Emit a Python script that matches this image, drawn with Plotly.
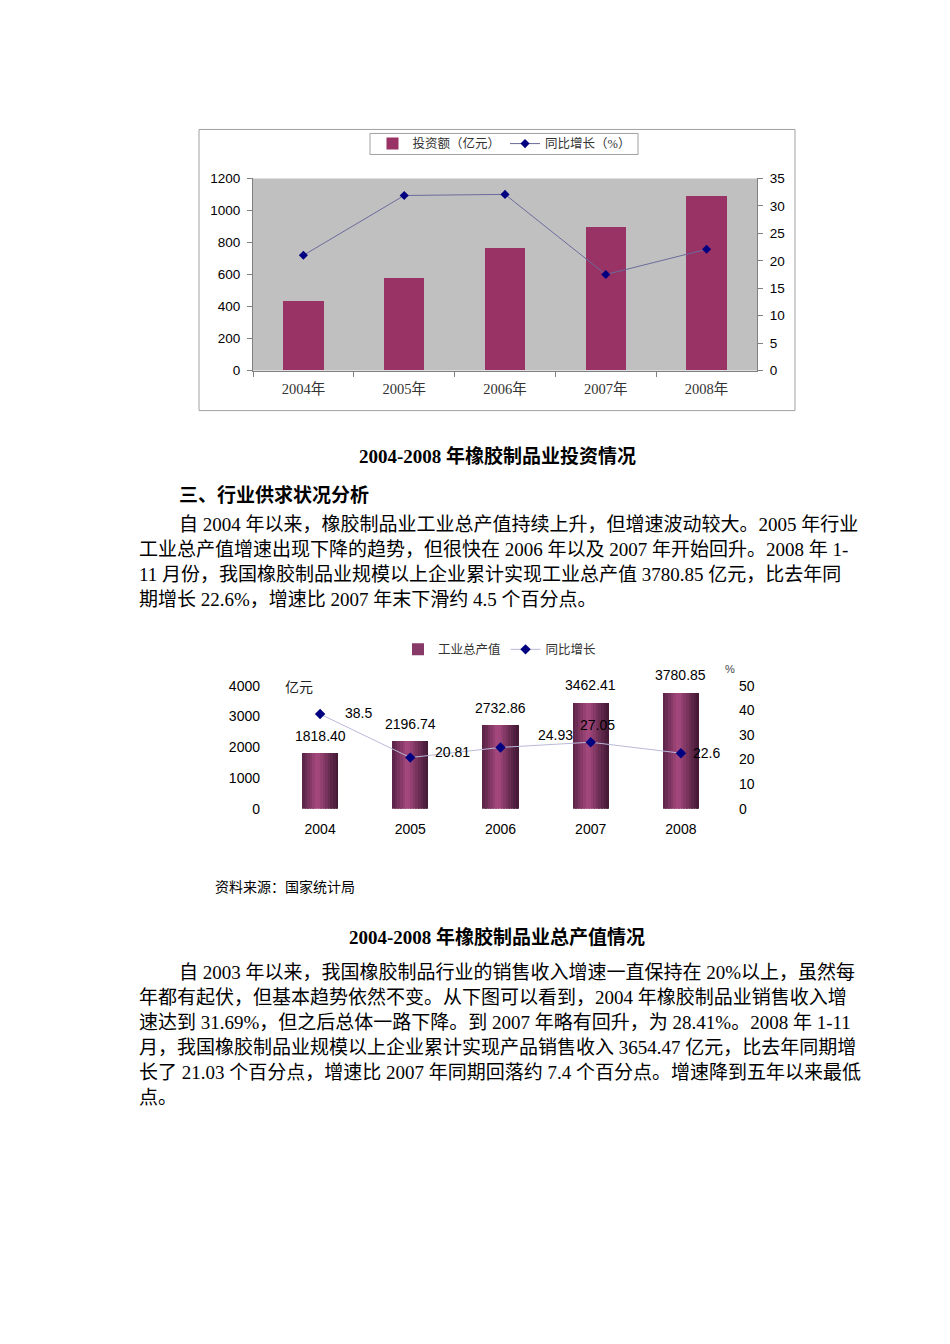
#!/usr/bin/env python3
"""
Rubber products industry page: investment chart, output chart and the text around them.
"""

import plotly.graph_objects as go

# ---- data ----
years_invest = ["2004年", "2005年", "2006年", "2007年", "2008年"]
invest_amount = [431, 575, 762, 894, 1087]        # 亿元
invest_growth = [21.0, 31.9, 32.1, 17.5, 22.1]    # %

years_output = [2004, 2005, 2006, 2007, 2008]
output_value = [1818.40, 2196.74, 2732.86, 3462.41, 3780.85]   # 亿元
output_growth = [38.5, 20.81, 24.93, 27.05, 22.6]              # %

title_invest = "2004-2008 年橡胶制品业投资情况"
title_output = "2004-2008 年橡胶制品业总产值情况"
section_heading = "三、行业供求状况分析"
source_note = "资料来源：国家统计局"

para1_lines = [
    "自 2004 年以来，橡胶制品业工业总产值持续上升，但增速波动较大。2005 年行业",
    "工业总产值增速出现下降的趋势，但很快在 2006 年以及 2007 年开始回升。2008 年 1-",
    "11 月份，我国橡胶制品业规模以上企业累计实现工业总产值 3780.85 亿元，比去年同",
    "期增长 22.6%，增速比 2007 年末下滑约 4.5 个百分点。",
]
para2_lines = [
    "自 2003 年以来，我国橡胶制品行业的销售收入增速一直保持在 20%以上，虽然每",
    "年都有起伏，但基本趋势依然不变。从下图可以看到，2004 年橡胶制品业销售收入增",
    "速达到 31.69%，但之后总体一路下降。到 2007 年略有回升，为 28.41%。2008 年 1-11",
    "月，我国橡胶制品业规模以上企业累计实现产品销售收入 3654.47 亿元，比去年同期增",
    "长了 21.03 个百分点，增速比 2007 年同期回落约 7.4 个百分点。增速降到五年以来最低",
    "点。",
]

W, H = 950, 1344
SERIF = "Liberation Serif, Noto Sans CJK SC, serif"
SANS = "Liberation Sans, Arial, Noto Sans CJK SC, sans-serif"
CJK = "Noto Sans CJK SC, sans-serif"

# the page ends up shifted by the body margin and squeezed a little in height,
# so page pixels are mapped back to paper fractions here
X_SHIFT, Y_SHIFT, Y_SCALE = 8, 15.6, 0.9876


def px(x):
    return (x - X_SHIFT) / W


def py(y):
    return 1 - ((y - Y_SHIFT) / Y_SCALE) / H


def strip_color(t):
    # cylinder-like shading across the bar width
    stops = [(0.0, (86, 34, 68)), (0.42, (168, 74, 128)), (0.82, (92, 38, 72)), (1.0, (66, 24, 52))]
    for (t0, c0), (t1, c1) in zip(stops, stops[1:]):
        if t <= t1:
            f = (t - t0) / (t1 - t0)
            c = [round(a + (b - a) * f) for a, b in zip(c0, c1)]
            return f"rgb({c[0]},{c[1]},{c[2]})"
    return "rgb(66,24,52)"


fig = go.Figure()

# ---- chart 1: investment ----
fig.add_trace(go.Bar(
    x=years_invest, y=invest_amount, name="投资额（亿元）",
    marker=dict(color="#993366", line=dict(width=0)), width=0.4,
    xaxis="x", yaxis="y", legend="legend",
))
fig.add_trace(go.Scatter(
    x=years_invest, y=invest_growth, name="同比增长（%）", mode="lines+markers",
    line=dict(color="#6b6b9c", width=1),
    marker=dict(symbol="diamond", size=7, color="#000080"),
    xaxis="x", yaxis="y2", legend="legend",
))

# ---- chart 2: gross output (shaded bars built from strips) ----
n_strips = 14
bar_w = 0.4
sw = bar_w / n_strips
for i in range(n_strips):
    fig.add_trace(go.Bar(
        x=years_output, y=output_value, name="工业总产值",
        marker=dict(color=strip_color((i + 0.5) / n_strips), line=dict(width=0)),
        width=sw * 1.6 if i < n_strips - 1 else sw, offset=-bar_w / 2 + i * sw,
        showlegend=(i == 3),
        xaxis="x2", yaxis="y3", legend="legend2",
    ))
fig.add_trace(go.Scatter(
    x=years_output, y=output_growth, name="同比增长", mode="lines+markers",
    line=dict(color="#b9b9d9", width=1),
    marker=dict(symbol="diamond", size=8, color="#000080"),
    xaxis="x2", yaxis="y4", legend="legend2",
))

annotations = []
for yr, v in zip(years_output, output_value):
    annotations.append(dict(
        x=yr, y=v, xref="x2", yref="y3", text=f"{v:.2f}", showarrow=False,
        yshift=17, font=dict(family=SANS, size=14, color="#000"),
    ))
label_shift = [(38, 1), (42, 6), (55, 12), (7, 17), (26, 0)]
for yr, g, (dx, dy) in zip(years_output, output_growth, label_shift):
    annotations.append(dict(
        x=yr, y=g, xref="x2", yref="y4", text=f"{g:g}", showarrow=False,
        xshift=dx, yshift=dy, font=dict(family=SANS, size=14, color="#000"),
    ))
annotations.append(dict(x=px(299), y=py(685), xref="paper", yref="paper", text="亿元",
                        xanchor="center", yanchor="middle", showarrow=False,
                        font=dict(family=CJK, size=14, color="#222")))
annotations.append(dict(x=px(730), y=py(668), xref="paper", yref="paper", text="%",
                        xanchor="center", yanchor="middle", showarrow=False,
                        font=dict(family=SANS, size=11, color="#444")))


# ---- page text ----
def text_at(x, y, s, size=19, bold=False, anchor="left"):
    annotations.append(dict(
        x=px(x), y=py(y), xref="paper", yref="paper", xanchor=anchor, yanchor="middle",
        text=f"<b>{s}</b>" if bold else s, showarrow=False,
        font=dict(family=SERIF, size=size, color="#000"),
    ))


text_at(497, 455, title_invest, size=19, bold=True, anchor="center")
text_at(177, 495, section_heading, size=19, bold=True)
for k, line in enumerate(para1_lines):
    text_at(177 if k == 0 else 137, 524 + 25 * k, line)
text_at(213, 886, source_note, size=14)
text_at(497, 936, title_output, size=19, bold=True, anchor="center")
for k, line in enumerate(para2_lines):
    text_at(177 if k == 0 else 137, 972 + 25 * k, line)

fig.update_layout(
    width=W, height=H, autosize=False,
    margin=dict(l=0, r=0, t=0, b=0),
    paper_bgcolor="white", plot_bgcolor="white",
    barmode="overlay", bargap=0,
    annotations=annotations,
    shapes=[
        # frame around chart 1
        dict(type="rect", xref="paper", yref="paper",
             x0=px(199), x1=px(795), y0=py(410), y1=py(129),
             line=dict(color="#a0a0a0", width=1)),
        # legend box of chart 1
        dict(type="rect", xref="paper", yref="paper",
             x0=px(370), x1=px(638), y0=py(154), y1=py(133),
             line=dict(color="#a0a0a0", width=1)),
        # grey plot area of chart 1
        dict(type="rect", xref="paper", yref="paper", layer="below",
             x0=px(253), x1=px(757), y0=py(370), y1=py(178),
             fillcolor="#c0c0c0", line=dict(width=0)),
    ],
    xaxis=dict(
        type="category", domain=[px(253), px(757)], anchor="y",
        showline=True, linecolor="#808080", linewidth=1,
        ticks="outside", tickson="boundaries", ticklen=5, tickcolor="#808080",
        tickfont=dict(family=SERIF, size=14.5, color="#333"), ticklabelstandoff=5,
        showgrid=False,
    ),
    yaxis=dict(
        domain=[py(370), py(178)], anchor="x", range=[0, 1200], dtick=200,
        showline=True, linecolor="#808080", linewidth=1,
        ticks="outside", ticklen=5, tickcolor="#808080",
        tickfont=dict(family=SANS, size=13.5, color="#000"), ticklabelstandoff=4,
        showgrid=False, zeroline=False,
    ),
    yaxis2=dict(
        overlaying="y", side="right", anchor="x", range=[0, 35], dtick=5,
        showline=True, linecolor="#808080", linewidth=1,
        ticks="outside", ticklen=5, tickcolor="#808080",
        tickfont=dict(family=SANS, size=13.5, color="#000"), ticklabelstandoff=4,
        showgrid=False, zeroline=False,
    ),
    xaxis2=dict(
        domain=[px(275), px(726)], anchor="y3",
        range=[2003.5, 2008.5], tickvals=years_output, tickformat="d",
        showline=False, ticks="", showgrid=False, zeroline=False,
        tickfont=dict(family=SANS, size=14, color="#000"), ticklabelstandoff=10,
    ),
    yaxis3=dict(
        domain=[py(808), py(685)], anchor="x2", range=[0, 4000], dtick=1000,
        showline=False, ticks="", showgrid=False, zeroline=False,
        tickfont=dict(family=SANS, size=14, color="#000"), ticklabelstandoff=14,
    ),
    yaxis4=dict(
        overlaying="y3", side="right", anchor="x2", range=[0, 50], dtick=10,
        showline=False, ticks="", showgrid=False, zeroline=False,
        tickfont=dict(family=SANS, size=14, color="#000"), ticklabelstandoff=12,
    ),
    legend=dict(
        orientation="h", x=px(504), xanchor="center", y=py(143.5), yanchor="middle",
        borderwidth=0, bgcolor="rgba(0,0,0,0)",
        font=dict(family=SERIF, size=12.5, color="#333"),
    ),
    legend2=dict(
        orientation="h", x=px(500), xanchor="center", y=py(649), yanchor="middle",
        bgcolor="rgba(0,0,0,0)",
        font=dict(family=SERIF, size=12.5, color="#333"),
    ),
)

fig.write_html("out.html")
